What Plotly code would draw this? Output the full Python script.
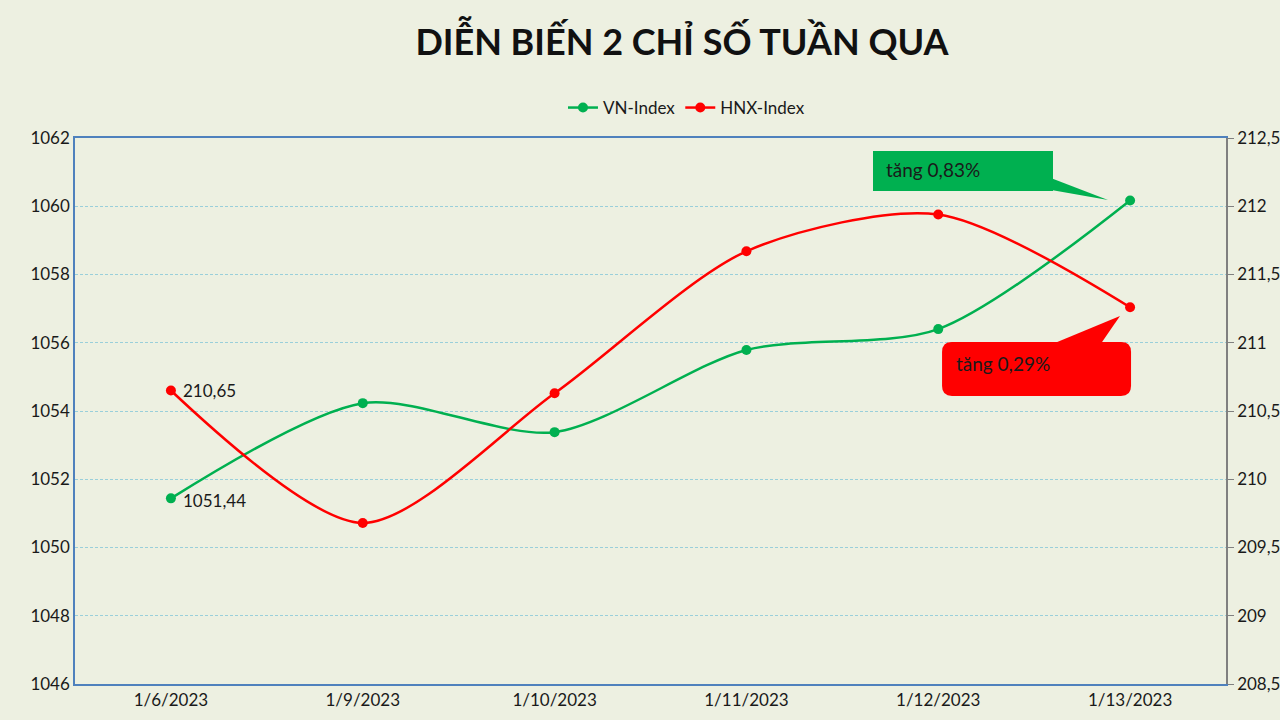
import plotly.graph_objects as go

# Weekly closes
dates = ["1/6/2023", "1/9/2023", "1/10/2023", "1/11/2023", "1/12/2023", "1/13/2023"]
vn_index = [1051.44, 1054.23, 1053.38, 1055.79, 1056.40, 1060.17]
hnx_index = [210.65, 209.68, 210.63, 211.67, 211.94, 211.26]

vn_change = "tăng 0,83%"
hnx_change = "tăng 0,29%"

GREEN = "#00B050"
RED = "#FF0000"
BG = "#EDF0E1"
FONT = "Lato"

# plot area in pixels (used for the callout boxes)
L, R, T, B = 75, 1226, 138, 684

def to_paper(xp, yp):
    return (xp - L) / (R - L), (B - yp) / (B - T)

def P(a, b):
    xx, yy = to_paper(a, b)
    return f"{xx:.4f},{yy:.4f}"

fig = go.Figure()
fig.add_trace(go.Scatter(
    x=dates, y=vn_index, name="VN-Index", mode="lines+markers",
    line=dict(color=GREEN, width=2.5, shape="spline", smoothing=0.8),
    marker=dict(size=10, color=GREEN), yaxis="y",
))
fig.add_trace(go.Scatter(
    x=dates, y=hnx_index, name="HNX-Index", mode="lines+markers",
    line=dict(color=RED, width=2.5, shape="spline", smoothing=0.8),
    marker=dict(size=10, color=RED), yaxis="y2",
))

# first-day value labels
fig.add_annotation(x=dates[0], y=vn_index[0], yref="y", text="1051,44",
                   showarrow=False, xanchor="left", xshift=10, yshift=-2,
                   font=dict(size=17, color="#1a1a1a"))
fig.add_annotation(x=dates[0], y=hnx_index[0], yref="y2", text="210,65",
                   showarrow=False, xanchor="left", xshift=10, yshift=0,
                   font=dict(size=17, color="#1a1a1a"))

# callout pointers
fig.add_shape(type="path", xref="paper", yref="paper", line_width=0, fillcolor=GREEN,
              path=f"M {P(1030, 170)} L {P(1108, 200)} L {P(1040, 188)} Z")
fig.add_shape(type="path", xref="paper", yref="paper", line_width=0, fillcolor=RED,
              path=f"M {P(1050, 345)} L {P(1120, 316)} L {P(1100, 345)} Z")

# callout boxes
boxes = [
    (873, 151, 1053, 191, GREEN, vn_change, 0),
    (942, 342, 1131, 396, RED, hnx_change, 10),
]
for x0, y0, x1, y1, col, txt, r in boxes:
    if r:
        path = (f"M {P(x0 + r, y0)} L {P(x1 - r, y0)} Q {P(x1, y0)} {P(x1, y0 + r)} "
                f"L {P(x1, y1 - r)} Q {P(x1, y1)} {P(x1 - r, y1)} L {P(x0 + r, y1)} "
                f"Q {P(x0, y1)} {P(x0, y1 - r)} L {P(x0, y0 + r)} Q {P(x0, y0)} {P(x0 + r, y0)} Z")
        fig.add_shape(type="path", xref="paper", yref="paper", path=path,
                      fillcolor=col, line_width=0)
        tx, ty = to_paper(x0 + 12, (y0 + y1) / 2 - 6)
    else:
        px0, py1 = to_paper(x0, y0)
        px1, py0 = to_paper(x1, y1)
        fig.add_shape(type="rect", xref="paper", yref="paper", x0=px0, x1=px1,
                      y0=py0, y1=py1, fillcolor=col, line_width=0)
        tx, ty = to_paper(x0 + 11, (y0 + y1) / 2 - 2)
    fig.add_annotation(x=tx, y=ty, xref="paper", yref="paper", text=txt,
                       showarrow=False, xanchor="left", yanchor="middle",
                       font=dict(size=19, color="#1a1a1a"))

fig.update_layout(
    width=1280, height=720,
    paper_bgcolor=BG, plot_bgcolor=BG,
    separators=",.",
    font=dict(family=FONT, size=16, color="#1a1a1a"),
    margin=dict(l=L, r=1280 - R, t=T, b=720 - B, autoexpand=False),
    title=dict(text="<b>DIỄN BIẾN 2 CHỈ SỐ TUẦN QUA</b>", x=682 / 1280, xanchor="center",
               y=1 - 42 / 720, yanchor="middle", font=dict(size=36, color="#111")),
    legend=dict(orientation="h", x=680 / 1280, xanchor="center", y=1 + 30 / 546,
                yanchor="middle", font=dict(size=17), bgcolor="rgba(0,0,0,0)"),
    showlegend=True,
    xaxis=dict(type="category", range=[-0.5, 5.5], showgrid=False,
               showline=True, linecolor="#4F81BD", linewidth=1.5, mirror=True,
               ticks="", tickfont=dict(size=17), automargin=False),
    yaxis=dict(range=[1046, 1062], dtick=2, showgrid=True, gridcolor="#9ACFDA",
               griddash="3px,2px", gridwidth=1, showline=True, linecolor="#4F81BD",
               linewidth=1.5, ticks="", zeroline=False, tickfont=dict(size=17),
               automargin=False),
    yaxis2=dict(range=[208.5, 212.5], dtick=0.5, overlaying="y", side="right",
                showgrid=False, showline=True, linecolor="#808080", linewidth=1.5,
                ticks="outside", ticklen=6, tickcolor="#808080", zeroline=False,
                tickfont=dict(size=17), automargin=False),
)

fig.write_html("out.html", config={"displayModeBar": False},
               post_script="document.body.style.margin='0';")
